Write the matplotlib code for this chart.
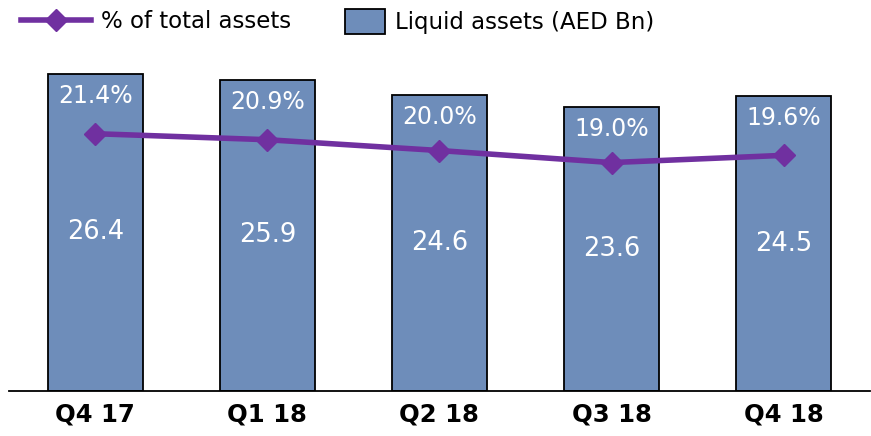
import numpy as np
import matplotlib.pyplot as plt
from matplotlib.lines import Line2D
from matplotlib.patches import Patch

# data
quarters = ['Q4 17', 'Q1 18', 'Q2 18', 'Q3 18', 'Q4 18']
liquid_assets = [26.4, 25.9, 24.6, 23.6, 24.5]
pct_total = [21.4, 20.9, 20.0, 19.0, 19.6]

bar_color = '#6E8DBA'
line_color = '#7030A0'

fig = plt.figure(figsize=(8.71, 4.36), dpi=100)
ax = fig.add_axes([0.0105, 0.103, 0.988, 0.80])
index = np.arange(len(quarters))

ax.bar(index, liquid_assets, width=0.55, color=bar_color, edgecolor='black', linewidth=1.3, zorder=2)
ax.set_xlim(-0.5, 4.5)
ax.set_ylim(0, 29)

# line on a twin axis with the same scale
ax2 = ax.twinx()
ax2.set_ylim(ax.get_ylim())
ax2.plot(index, pct_total, color=line_color, linewidth=4, marker='D', markersize=11, zorder=3)
ax2.axis('off')

for i, (v, p) in enumerate(zip(liquid_assets, pct_total)):
    ax.text(i, v / 2, f'{v:.1f}', ha='center', va='center', color='white', fontsize=18.5, zorder=4)
    ax.annotate(f'{p:.1f}%', (i, v), xytext=(0, -22), textcoords='offset pixels',
                ha='center', va='center', color='white', fontsize=17, zorder=4)

for side in ['top', 'right', 'left']:
    ax.spines[side].set_visible(False)
ax.spines['bottom'].set_linewidth(1.3)
ax.set_yticks([])
ax.set_xticks(index)
ax.set_xticklabels(quarters, fontsize=17.5, fontweight='bold')
ax.tick_params(axis='x', length=0, pad=8)

# two legends so each handle gets its own size
leg1 = fig.legend([Line2D([0], [0], color=line_color, linewidth=4, marker='D', markersize=11)],
                  ['% of total assets'], loc='center left', bbox_to_anchor=(0.0, 0.95),
                  frameon=False, fontsize=16.5, handlelength=3.05, handletextpad=0.45)
leg2 = fig.legend([Patch(facecolor=bar_color, edgecolor='black', linewidth=1.3)],
                  ['Liquid assets (AED Bn)'], loc='center left', bbox_to_anchor=(0.372, 0.95),
                  frameon=False, fontsize=16.5, handlelength=1.75, handleheight=1.25, handletextpad=0.45)

fig.savefig('out.png', dpi=100)
